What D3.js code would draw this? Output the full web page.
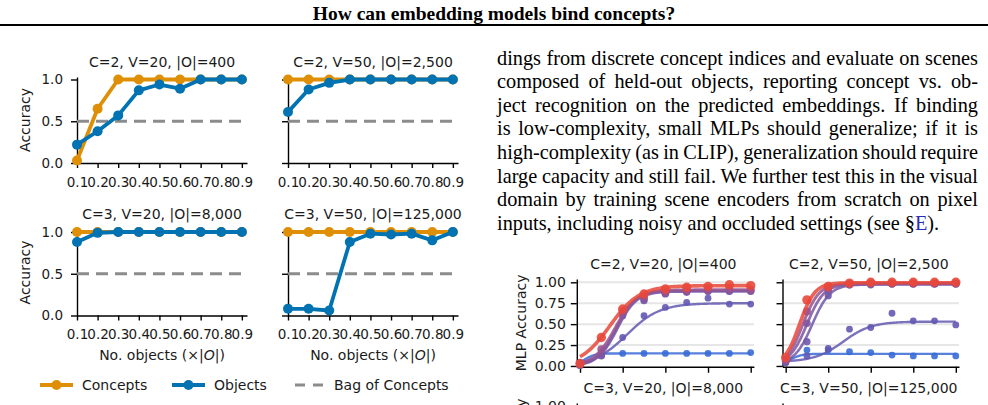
<!DOCTYPE html>
<html>
<head>
<meta charset="utf-8">
<script src="https://cdn.jsdelivr.net/npm/d3@7"></script>
<style>
  body { margin: 0; background: #fff; }
  svg { display: block; }
</style>
</head>
<body>
<svg id="fig" width="988" height="405"></svg>
<script>
// ---------- data ----------
const figTitle = "How can embedding models bind concepts?";

// left figure: accuracy vs number of training objects
const fraction = [0.1, 0.2, 0.3, 0.4, 0.5, 0.6, 0.7, 0.8, 0.9];
const accTitles = ["C=2, V=20, |O|=400", "C=2, V=50, |O|=2,500", "C=3, V=20, |O|=8,000", "C=3, V=50, |O|=125,000"];
const conceptAcc = [
  [0.03, 0.65, 1.0, 1.0, 1.0, 1.0, 1.0, 1.0, 1.0],
  [1.0, 1.0, 1.0, 1.0, 1.0, 1.0, 1.0, 1.0, 1.0],
  [1.0, 1.0, 1.0, 1.0, 1.0, 1.0, 1.0, 1.0, 1.0],
  [1.0, 1.0, 1.0, 1.0, 1.0, 1.0, 1.0, 1.0, 1.0]
];
const objectAcc = [
  [0.22, 0.38, 0.57, 0.87, 0.94, 0.89, 1.0, 1.0, 1.0],
  [0.61, 0.88, 0.96, 1.0, 1.0, 1.0, 1.0, 1.0, 1.0],
  [0.88, 0.99, 1.0, 1.0, 1.0, 1.0, 1.0, 1.0, 1.0],
  [0.08, 0.08, 0.06, 0.88, 0.98, 0.97, 0.98, 0.90, 1.0]
];
const bagOfConcepts = [0.5, 0.5, 0.5, 0.5];
const accTicks = [0, 0.5, 1.0];
const legendNames = ["Concepts", "Objects", "Bag of Concepts"];

// right figure: MLP accuracy, six model sizes (small -> large)
const mlpTitles = ["C=2, V=20, |O|=400", "C=2, V=50, |O|=2,500"];
const mlpTitlesNext = ["C=3, V=20, |O|=8,000", "C=3, V=50, |O|=125,000"];
const mlpAcc = [
  [
    [0.04, 0.15, 0.15, 0.15, 0.15, 0.15, 0.15, 0.15, 0.16],
    [0.02, 0.13, 0.34, 0.60, 0.70, 0.76, 0.81, 0.74, 0.74],
    [0.01, 0.12, 0.60, 0.78, 0.86, 0.88, 0.89, 0.89, 0.89],
    [0.01, 0.13, 0.62, 0.80, 0.87, 0.89, 0.90, 0.90, 0.90],
    [0.02, 0.20, 0.65, 0.83, 0.88, 0.90, 0.91, 0.92, 0.91],
    [0.03, 0.34, 0.68, 0.86, 0.92, 0.94, 0.95, 0.97, 0.96]
  ],
  [
    [0.07, 0.19, 0.19, 0.17, 0.16, 0.13, 0.12, 0.12, 0.12],
    [0.04, 0.12, 0.21, 0.44, 0.46, 0.63, 0.54, 0.54, 0.49],
    [0.04, 0.29, 0.84, 0.97, 0.97, 0.98, 0.98, 0.98, 0.98],
    [0.05, 0.51, 0.90, 0.97, 0.98, 0.98, 0.98, 0.98, 0.98],
    [0.07, 0.65, 0.93, 0.98, 0.99, 0.99, 0.99, 0.99, 0.99],
    [0.10, 0.79, 0.95, 0.99, 1.0, 1.0, 1.0, 1.0, 1.0]
  ]
];
// sigmoid fits: [floor, top, midpoint, slope]
const mlpFit = [
  [[0, 0.15, 0.12, 40], [0, 0.75, 0.32, 13], [0, 0.89, 0.275, 22], [0, 0.90, 0.27, 22], [0, 0.91, 0.265, 20], [0, 0.96, 0.24, 14.5]],
  [[0.03, 0.145, 0.13, 40], [0.05, 0.53, 0.37, 15], [0.02, 0.975, 0.225, 24], [0.02, 0.98, 0.2, 25], [0, 0.985, 0.18, 26], [0, 0.995, 0.165, 28]]
];
const mlpTicks = [0, 0.25, 0.5, 0.75, 1.0];
const mlpFracTicks = [0.1, 0.3, 0.5, 0.7, 0.9];

const paragraph = [
  "dings from discrete concept indices and evaluate on scenes",
  "composed of held-out objects, reporting concept vs. ob-",
  "ject recognition on the predicted embeddings. If binding",
  "is low-complexity, small MLPs should generalize; if it is",
  "high-complexity (as in CLIP), generalization should require",
  "large capacity and still fail. We further test this in the visual",
  "domain by training scene encoders from scratch on pixel",
  "inputs, including noisy and occluded settings (see §E)."
];

// ---------- style ----------
const sans = "'DejaVu Sans', sans-serif";
const serif = "'Liberation Serif', 'Times New Roman', serif";
const ink = "#1a1a1a";
const orange = "#de8f05", blue = "#0173b2", gray = "#8c8c8c";
const mlpColors = ["#3a6bd6", "#6459b2", "#6f58aa", "#7e56a0", "#985390", "#e8483a"];
const mlpWidth = [2.4, 2.4, 2.6, 2.8, 3.0, 3.6];
const mlpRadius = [3.4, 3.4, 3.6, 3.8, 4.0, 4.7];

const svg = d3.select("#fig");
svg.append("rect").attr("width", 988).attr("height", 405).attr("fill", "#fff");

function styleAxis(sel, size) {
  sel.attr("font-family", null).attr("font-size", null);
  sel.select(".domain").attr("stroke", "#000").attr("stroke-width", 1.4);
  sel.selectAll(".tick line").attr("stroke", "#000").attr("stroke-width", 1.4);
  sel.selectAll(".tick text").attr("fill", ink)
    .style("font-family", sans).style("font-size", size + "px");
}

// ---------- title ----------
svg.append("text")
  .attr("x", 494).attr("y", 19.5)
  .attr("text-anchor", "middle")
  .style("font-family", serif).style("font-weight", "bold").style("font-size", "19.5px")
  .attr("fill", "#000")
  .text(figTitle);
svg.append("line")
  .attr("x1", 0).attr("x2", 988).attr("y1", 25).attr("y2", 25)
  .attr("stroke", "#000").attr("stroke-width", 2);

// ---------- left figure ----------
const accLayout = [
  { left: 77, base: 163, yLabels: true, xTitle: false },
  { left: 288, base: 163, yLabels: false, xTitle: false },
  { left: 77, base: 315.5, yLabels: true, xTitle: true },
  { left: 288, base: 315.5, yLabels: false, xTitle: true }
];

accLayout.forEach((p, i) => {
  const x = d3.scaleLinear().domain([0.1, 0.925]).range([p.left, p.left + 170]);
  const y = d3.scaleLinear().domain([0, 1.03]).range([p.base, p.base - 86]);
  const g = svg.append("g");

  const ya = g.append("g").attr("transform", `translate(${p.left},0)`)
    .call(d3.axisLeft(y).tickValues(accTicks).tickFormat(d3.format(".1f"))
      .tickSize(6).tickPadding(8).tickSizeOuter(0));
  styleAxis(ya, 13.5);
  if (!p.yLabels) ya.selectAll(".tick text").remove();

  const xa = g.append("g").attr("transform", `translate(0,${p.base})`)
    .call(d3.axisBottom(x).tickValues(fraction).tickFormat(d3.format(".1f"))
      .tickSize(5).tickPadding(9).tickSizeOuter(0));
  styleAxis(xa, 13.5);

  g.append("text")
    .attr("x", (p.left + p.left + 170) / 2).attr("y", p.base - 96.5)
    .attr("text-anchor", "middle").attr("fill", ink)
    .style("font-family", sans).style("font-size", "14px")
    .text(accTitles[i]);

  if (p.yLabels) {
    g.append("text")
      .attr("transform", `translate(25.5,${y(0.515)}) rotate(-90)`)
      .attr("text-anchor", "middle").attr("dy", "0.35em").attr("fill", ink)
      .style("font-family", sans).style("font-size", "14px")
      .text("Accuracy");
  }
  if (p.xTitle) {
    const xt = g.append("text")
      .attr("x", (p.left + p.left + 170) / 2).attr("y", p.base + 44)
      .attr("text-anchor", "middle").attr("fill", ink)
      .style("font-family", sans).style("font-size", "14px");
    xt.append("tspan").text("No. objects (×|");
    xt.append("tspan").style("font-style", "italic").text("O");
    xt.append("tspan").text("|)");
  }

  // bag of concepts baseline
  g.append("path")
    .attr("d", d3.line().x(d => x(d)).y(() => y(bagOfConcepts[i]))([fraction[0], fraction[fraction.length - 1]]))
    .attr("stroke", gray).attr("stroke-width", 3).attr("stroke-dasharray", "12,7").attr("fill", "none");

  const line = d3.line().x((d, j) => x(fraction[j])).y(d => y(d));
  [[conceptAcc[i], orange], [objectAcc[i], blue]].forEach(([vals, col]) => {
    g.append("path").attr("d", line(vals))
      .attr("stroke", col).attr("stroke-width", 3.8).attr("fill", "none")
      .attr("stroke-linejoin", "round");
    g.selectAll(null).data(vals).join("circle")
      .attr("cx", (d, j) => x(fraction[j])).attr("cy", d => y(d))
      .attr("r", 5).attr("fill", col);
  });
});

// legend
const legend = svg.append("g").attr("transform", "translate(0,385)");
const legendItems = [
  { x: 40, col: orange, dash: null, marker: true },
  { x: 172, col: blue, dash: null, marker: true },
  { x: 295, col: gray, dash: "10,8", marker: false }
];
legendItems.forEach((it, k) => {
  legend.append("line")
    .attr("x1", it.x).attr("x2", it.x + 28 + (it.marker ? 5 : 0)).attr("y1", 0).attr("y2", 0)
    .attr("stroke", it.col).attr("stroke-width", it.marker ? 3.8 : 3)
    .attr("stroke-dasharray", it.dash);
  if (it.marker) legend.append("circle").attr("cx", it.x + 16.5).attr("cy", 0).attr("r", 5).attr("fill", it.col);
  legend.append("text")
    .attr("x", it.x + (it.marker ? 42 : 39)).attr("y", 0).attr("dy", "0.36em")
    .attr("fill", ink).style("font-family", sans).style("font-size", "14px")
    .text(legendNames[k]);
});

// ---------- paragraph ----------
const textLeft = 497, textRight = 978, textBase = 64.5, textStep = 23.6;
paragraph.forEach((ln, i) => {
  const t = svg.append("text")
    .attr("x", textLeft).attr("y", textBase + i * textStep)
    .attr("fill", "#000")
    .style("font-family", serif).style("font-size", "20.3px");
  if (i === paragraph.length - 1) {
    const cut = ln.indexOf("§") + 1;
    t.append("tspan").text(ln.slice(0, cut));
    t.append("tspan").attr("fill", "#2a2ab8").text(ln.slice(cut, cut + 1));
    t.append("tspan").text(ln.slice(cut + 1));
  } else {
    t.text(ln);
    const w = t.node().getComputedTextLength();
    const gaps = ln.split(" ").length - 1;
    t.style("word-spacing", ((textRight - textLeft - w) / gaps) + "px");
  }
});

// ---------- right figure ----------
const mlpLayout = [
  { left: 576.8, right: 753.9, yLabels: true },
  { left: 782.5, right: 959, yLabels: false }
];
const rowShift = [0, 124];

rowShift.forEach((shift, r) => {
  mlpLayout.forEach((p, i) => {
    const x = d3.scaleLinear().domain([0.085, 0.915]).range([p.left, p.right]);
    const y = d3.scaleLinear().domain([-0.01, 1.04]).range([366.8 + shift, 278.95 + shift]);
    const g = svg.append("g");

    g.selectAll(null).data(mlpTicks.slice(1)).join("line")
      .attr("x1", p.left).attr("x2", p.right)
      .attr("y1", d => y(d)).attr("y2", d => y(d))
      .attr("stroke", "#e6e6e6").attr("stroke-width", 2);

    const ya = g.append("g").attr("transform", `translate(${p.left},0)`)
      .call(d3.axisLeft(y).tickValues(mlpTicks).tickFormat(d3.format(".2f"))
        .tickSize(6).tickPadding(5).tickSizeOuter(0));
    styleAxis(ya, 14);
    if (!p.yLabels) ya.selectAll(".tick text").remove();

    const xa = g.append("g").attr("transform", `translate(0,${y(-0.01)})`)
      .call(d3.axisBottom(x).tickValues(mlpFracTicks).tickFormat("")
        .tickSize(6).tickSizeOuter(0));
    styleAxis(xa, 14);

    g.append("text")
      .attr("x", (p.left + p.right) / 2 - 2).attr("y", 268.5 + shift)
      .attr("text-anchor", "middle").attr("fill", ink)
      .style("font-family", sans).style("font-size", "14px")
      .text(r === 0 ? mlpTitles[i] : mlpTitlesNext[i]);

    if (p.yLabels) {
      g.append("text")
        .attr("transform", `translate(521.5,${y(0.515)}) rotate(-90)`)
        .attr("text-anchor", "middle").attr("dy", "0.35em").attr("fill", ink)
        .style("font-family", sans).style("font-size", "14px")
        .text("MLP Accuracy");
    }

    if (r > 0) return; // lower row continues beyond the crop
    const xs = d3.range(fraction[0], fraction[fraction.length - 1] + 1e-9, 0.005);
    mlpAcc[i].forEach((vals, s) => {
      const [b, top, mid, k] = mlpFit[i][s];
      const fit = d3.line().x(d => x(d)).y(d => y(b + (top - b) / (1 + Math.exp(-k * (d - mid)))));
      g.append("path").attr("d", fit(xs))
        .attr("stroke", mlpColors[s]).attr("stroke-width", mlpWidth[s])
        .attr("stroke-opacity", 0.85).attr("fill", "none");
      g.selectAll(null).data(vals).join("circle")
        .attr("cx", (d, j) => x(fraction[j])).attr("cy", d => y(d))
        .attr("r", mlpRadius[s]).attr("fill", mlpColors[s]).attr("fill-opacity", 0.9);
    });
  });
});
</script>
</body>
</html>
